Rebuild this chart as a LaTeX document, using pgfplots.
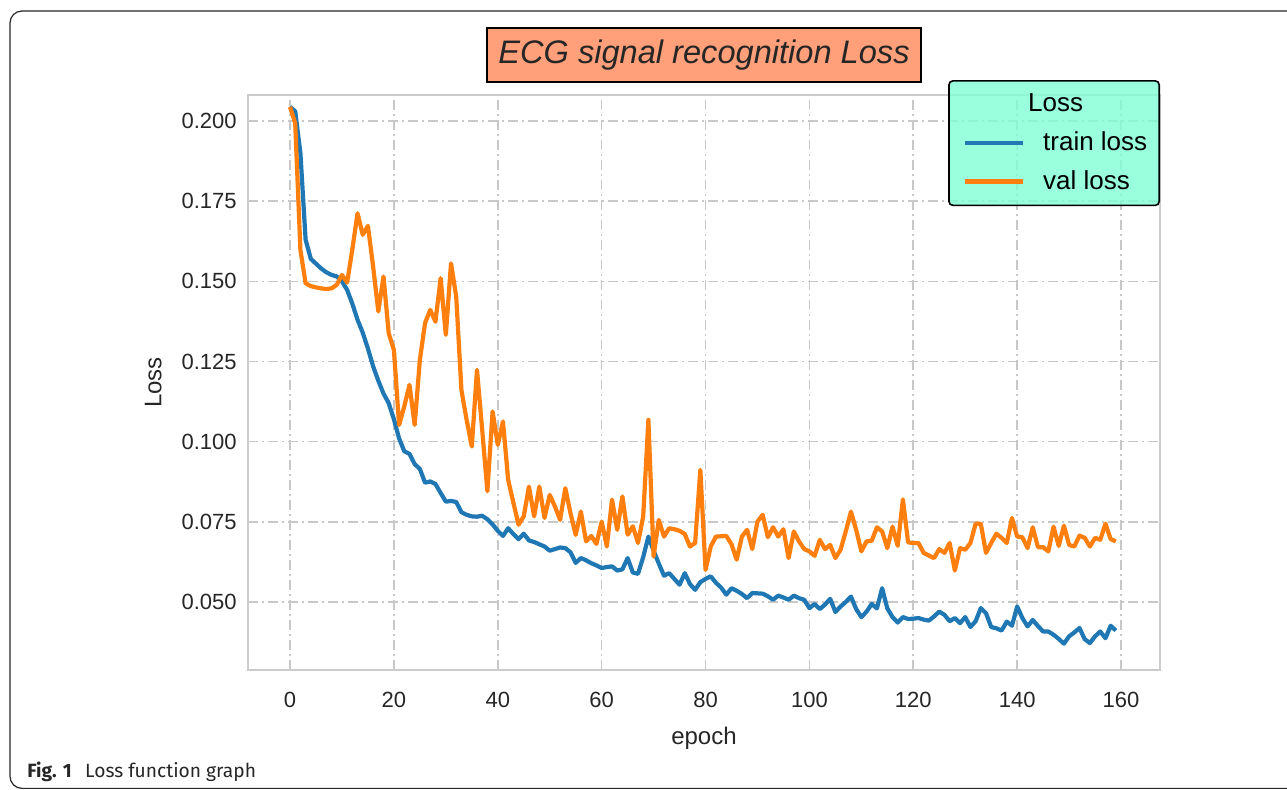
\documentclass[border=0pt]{standalone}
\usepackage{fontspec}
\setmainfont{Liberation Sans}
\newfontfamily\capfont{Fira Sans}
\usepackage{pgfplots}
\usepackage{pgfplotstable}
\pgfplotsset{compat=1.18}
\definecolor{trainc}{HTML}{1F77B4}
\definecolor{valc}{HTML}{FF7F0E}
\definecolor{gridc}{HTML}{C8C8C8}
\definecolor{axc}{HTML}{CCCCCC}
\definecolor{titlefill}{HTML}{FFA07A}
\definecolor{legfill}{HTML}{7FFFD4}
\definecolor{txt}{HTML}{262626}

\pgfplotstableread{
e v
0 0.2044
1 0.2030
2 0.1900
3 0.1630
4 0.1570
5 0.1555
6 0.1540
7 0.1528
8 0.1520
9 0.1515
10 0.1500
11 0.1473
12 0.1430
13 0.1380
14 0.1340
15 0.1290
16 0.1235
17 0.1190
18 0.1150
19 0.1120
20 0.1070
21 0.1010
22 0.0970
23 0.0962
24 0.0930
25 0.0915
26 0.0872
27 0.0876
28 0.0868
29 0.0840
30 0.0813
31 0.0815
32 0.0812
33 0.0780
34 0.0772
35 0.0767
36 0.0766
37 0.0769
38 0.0758
39 0.0742
40 0.0722
41 0.0706
42 0.0730
43 0.0712
44 0.0696
45 0.0713
46 0.0692
47 0.0687
48 0.0680
49 0.0673
50 0.0660
51 0.0665
52 0.0670
53 0.0668
54 0.0655
55 0.0622
56 0.0637
57 0.0630
58 0.0621
59 0.0614
60 0.0606
61 0.0609
62 0.0611
63 0.0598
64 0.0602
65 0.0637
66 0.0592
67 0.0588
68 0.0640
69 0.0704
70 0.0660
71 0.0620
72 0.0582
73 0.0590
74 0.0572
75 0.0554
76 0.0590
77 0.0556
78 0.0538
79 0.0562
80 0.0572
81 0.0580
82 0.0560
83 0.0545
84 0.0523
85 0.0543
86 0.0535
87 0.0525
88 0.0512
89 0.0528
90 0.0527
91 0.0526
92 0.0518
93 0.0507
94 0.0520
95 0.0514
96 0.0507
97 0.0520
98 0.0512
99 0.0507
100 0.0481
101 0.0494
102 0.0478
103 0.0492
104 0.0510
105 0.0469
106 0.0486
107 0.0500
108 0.0517
109 0.0478
110 0.0453
111 0.0470
112 0.0494
113 0.0480
114 0.0543
115 0.0480
116 0.0453
117 0.0436
118 0.0453
119 0.0447
120 0.0448
121 0.0450
122 0.0445
123 0.0442
124 0.0455
125 0.0470
126 0.0460
127 0.0440
128 0.0450
129 0.0434
130 0.0453
131 0.0422
132 0.0440
133 0.0481
134 0.0465
135 0.0422
136 0.0418
137 0.0411
138 0.0439
139 0.0426
140 0.0486
141 0.0450
142 0.0424
143 0.0444
144 0.0425
145 0.0408
146 0.0408
147 0.0398
148 0.0385
149 0.0370
150 0.0393
151 0.0405
152 0.0419
153 0.0384
154 0.0372
155 0.0393
156 0.0408
157 0.0387
158 0.0426
159 0.0411
}\trainloss

\pgfplotstableread{
e v
0 0.2044
1 0.1993
2 0.1598
3 0.1494
4 0.1485
5 0.1481
6 0.1478
7 0.1476
8 0.1478
9 0.1489
10 0.1520
11 0.1496
12 0.1600
13 0.1712
14 0.1645
15 0.1673
16 0.1546
17 0.1406
18 0.1515
19 0.1338
20 0.1286
21 0.1052
22 0.1110
23 0.1177
24 0.1052
25 0.1255
26 0.1370
27 0.1411
28 0.1374
29 0.1510
30 0.1333
31 0.1556
32 0.1452
33 0.1161
34 0.1068
35 0.0985
36 0.1224
37 0.1037
38 0.0845
39 0.1094
40 0.0990
41 0.1063
42 0.0881
43 0.0810
44 0.0741
45 0.0767
46 0.0860
47 0.0767
48 0.0860
49 0.0762
50 0.0834
51 0.0798
52 0.0756
53 0.0855
54 0.0777
55 0.0709
56 0.0782
57 0.0689
58 0.0706
59 0.0681
60 0.0751
61 0.0673
62 0.0819
63 0.0725
64 0.0829
65 0.0710
66 0.0736
67 0.0684
68 0.0767
69 0.1068
70 0.0642
71 0.0756
72 0.0704
73 0.0730
74 0.0727
75 0.0722
76 0.0712
77 0.0673
78 0.0684
79 0.0912
80 0.0600
81 0.0673
82 0.0704
83 0.0705
84 0.0706
85 0.0680
86 0.0632
87 0.0704
88 0.0725
89 0.0665
90 0.0751
91 0.0772
92 0.0702
93 0.0733
94 0.0704
95 0.0727
96 0.0637
97 0.0720
98 0.0689
99 0.0665
100 0.0658
101 0.0644
102 0.0694
103 0.0665
104 0.0678
105 0.0637
106 0.0663
107 0.0720
108 0.0782
109 0.0725
110 0.0658
111 0.0689
112 0.0691
113 0.0733
114 0.0720
115 0.0668
116 0.0735
117 0.0675
118 0.0820
119 0.0686
120 0.0684
121 0.0684
122 0.0653
123 0.0645
124 0.0637
125 0.0665
126 0.0653
127 0.0684
128 0.0598
129 0.0668
130 0.0663
131 0.0684
132 0.0744
133 0.0744
134 0.0653
135 0.0684
136 0.0713
137 0.0700
138 0.0684
139 0.0762
140 0.0704
141 0.0702
142 0.0668
143 0.0733
144 0.0671
145 0.0671
146 0.0658
147 0.0735
148 0.0675
149 0.0738
150 0.0678
151 0.0673
152 0.0707
153 0.0700
154 0.0673
155 0.0700
156 0.0694
157 0.0744
158 0.0696
159 0.0689
}\valloss

\begin{document}
\begin{tikzpicture}
\useasboundingbox (0pt,0pt) rectangle (643.5pt,-395pt);
\draw[line width=0.6pt, rounded corners=6pt, black!85] (660pt,-5.5pt) -- (5pt,-5.5pt) -- (5pt,-394.2pt) -- (660pt,-394.2pt);
\node[anchor=base west, font=\capfont\fontsize{9.6}{11}\selectfont, inner sep=0pt, text=txt] at (13.5pt,-389pt) {\textbf{Fig. 1}\hspace{0.7em}Loss function graph};

\begin{axis}[
  at={(124pt,-47.5pt)}, anchor=north west,
  width=456pt, height=287.5pt, scale only axis,
  xmin=-8.09, xmax=167.5, ymin=0.0288, ymax=0.2081,
  xtick={0,20,...,160},
  ytick={0.05,0.075,0.1,0.125,0.15,0.175,0.2},
  yticklabel style={/pgf/number format/.cd, fixed, fixed zerofill, precision=3},
  /pgf/number format/assume math mode=true,
  every tick label/.append style={font=\fontsize{11}{13}\selectfont, text=txt, inner sep=0pt},
  xticklabel shift=11pt,
  yticklabel shift=5.5pt,
  major tick length=0pt,
  tick style={draw=none},
  axis line style={draw=axc, line width=1pt},
  grid=major,
  major grid style={draw=gridc, line width=0.8pt, dash pattern=on 5pt off 2pt on 1pt off 2pt},
  xlabel={epoch}, ylabel={Loss},
  every axis x label/.style={at={(axis description cs:0.5,-0.1304)}, anchor=base, font=\fontsize{12}{14}\selectfont, text=txt},
  every axis y label/.style={at={(axis description cs:-0.104,0.5)}, rotate=90, anchor=center, font=\fontsize{12}{14}\selectfont, text=txt},
  legend style={at={(1,1.026)}, anchor=north east, fill=legfill, fill opacity=0.8, draw opacity=1, text opacity=1, draw=black, line width=0.8pt, rounded corners=2pt, font=\fontsize{13}{15}\selectfont, row sep=4.5pt, inner xsep=4pt, inner ysep=4.5pt,
    /tikz/every odd column/.append style={column sep=7pt}},
  legend cell align=left,
  legend image code/.code={\path (-3pt,0pt); \draw[#1, line width=2.1pt] (0pt,0pt) -- (29pt,0pt);},
]
\addlegendimage{empty legend}
\addlegendentry{\hspace{-7.5pt}Loss}
\addplot[trainc, line width=2.1pt, line join=round, no marks] table[x=e, y=v] {\trainloss};
\addlegendentry{train loss}
\addplot[valc, line width=2.1pt, line join=round, no marks] table[x=e, y=v] {\valloss};
\addlegendentry{val loss}
\end{axis}
\node[draw=black, line width=0.6pt, fill=titlefill, minimum width=217pt, minimum height=27pt, inner sep=0pt, font=\fontsize{16.3}{18}\selectfont\itshape, text=txt] at (352pt,-27.5pt) {ECG signal recognition Loss};
\end{tikzpicture}
\end{document}
